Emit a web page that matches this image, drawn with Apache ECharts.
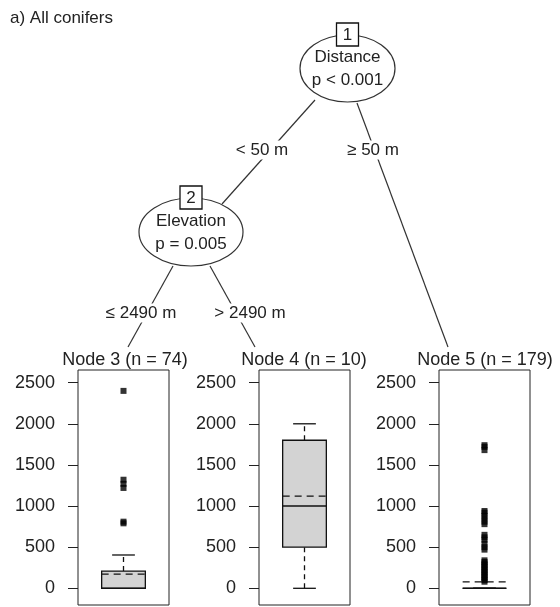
<!DOCTYPE html>
<html>
<head>
<meta charset="utf-8">
<script src="https://cdn.jsdelivr.net/npm/echarts@6/dist/echarts.min.js"></script>
<style>html,body{margin:0;padding:0;background:#fff}#c{width:560px;height:607px}</style>
</head>
<body>
<div id="c"></div>
<script>
// ---- data ----
const nodeLabels = ['Node 3 (n = 74)', 'Node 4 (n = 10)', 'Node 5 (n = 179)'];
// [lower whisker, Q1, median, Q3, upper whisker]
const boxNode3 = [0, 0, 0, 210, 405];
const boxNode4 = [0, 500, 1000, 1800, 2000];
const boxNode5 = [0, 0, 0, 0, 0];
const means = [172, 1120, 77];
const outliersNode3 = [2400, 1320, 1270, 1220, 810, 790];
const outliersNode4 = [];
const outliersNode5 = [80, 100, 120, 140, 160, 180, 200, 220, 240, 260, 280, 300, 320, 340,
                       470, 500, 540, 590, 620, 650,
                       780, 810, 850, 880, 920, 940,
                       1680, 1720, 1740];
const yTicks = [0, 500, 1000, 1500, 2000, 2500];
const splitLabels = ['< 50 m', '\u2265 50 m', '\u2264 2490 m', '> 2490 m'];
const innerNodes = [
  {id: '1', variable: 'Distance', p: 'p < 0.001'},
  {id: '2', variable: 'Elevation', p: 'p = 0.005'}
];

const boxes = [boxNode3, boxNode4, boxNode5];
const outliers = [outliersNode3, outliersNode4, outliersNode5];

const FONT = '"Liberation Sans", Arial, sans-serif';
const TXT = '#222';
const LINE = '#333';

const chart = echarts.init(document.getElementById('c'), null, {renderer: 'canvas'});

const gridLefts = [78, 259, 439];
const grids = gridLefts.map(l => ({left: l, width: 91, top: 370, height: 235, show: true,
  borderColor: '#222', borderWidth: 1, backgroundColor: 'transparent'}));
const xAxes = grids.map((g, i) => ({gridIndex: i, type: 'value', min: 0, max: 1, show: false}));
const yAxes = grids.map((g, i) => ({
  gridIndex: i, type: 'value', min: -203, max: 2654,
  axisLine: {show: false},
  splitLine: {show: false},
  axisTick: {show: true, length: 10, customValues: yTicks, lineStyle: {color: '#222'}},
  axisLabel: {show: true, customValues: yTicks, margin: 23, fontSize: 18, fontFamily: FONT, color: TXT,
              formatter: v => String(v)}
}));

function renderBox(params, api) {
  const lo = api.value(1), q1 = api.value(2), med = api.value(3), q3 = api.value(4), hi = api.value(5), mn = api.value(6);
  const c = (x, y) => api.coord([x, y]);
  const dash = {stroke: '#111', lineWidth: 1.3, lineDash: [5, 4]};
  const solid = {stroke: '#111', lineWidth: 1.3};
  const a = c(0.26, q3), b = c(0.74, q1);
  const seg = (p1, p2, style) => ({type: 'line', shape: {x1: p1[0], y1: p1[1], x2: p2[0], y2: p2[1]}, style: style});
  return {type: 'group', children: [
    seg(c(0.5, lo), c(0.5, q1), dash),
    seg(c(0.5, q3), c(0.5, hi), dash),
    seg(c(0.375, lo), c(0.625, lo), solid),
    seg(c(0.375, hi), c(0.625, hi), solid),
    {type: 'rect', shape: {x: a[0], y: a[1], width: b[0] - a[0], height: b[1] - a[1]},
     style: {fill: '#d3d3d3', stroke: '#111', lineWidth: 1.3}},
    seg(c(0.26, med), c(0.74, med), {stroke: '#111', lineWidth: 1.6}),
    seg(c(0.26, mn), c(0.74, mn), {stroke: '#111', lineWidth: 1.3, lineDash: [7, 5]})
  ]};
}

const series = [];
boxes.forEach((bx, i) => {
  series.push({
    type: 'custom', xAxisIndex: i, yAxisIndex: i, renderItem: renderBox,
    encode: {x: 0, y: [1, 2, 3, 4, 5, 6]},
    data: [[0.5].concat(bx).concat([means[i]])], silent: true, z: 2
  });
  series.push({
    type: 'scatter', xAxisIndex: i, yAxisIndex: i, symbol: 'rect', symbolSize: 6,
    itemStyle: {color: '#000'}, data: outliers[i].map(v => [0.5, v]), silent: true, z: 3
  });
});

// ---- tree layout graphics ----
const g = [];
const text = (x, y, s, size) => ({type: 'text', x: x, y: y,
  style: {text: s, fill: TXT, font: (size || 17) + 'px ' + FONT, align: 'center', verticalAlign: 'middle'}});
const line = (x1, y1, x2, y2) => ({type: 'line', shape: {x1, y1, x2, y2}, style: {stroke: LINE, lineWidth: 1.2}, z: 1});

g.push({type: 'text', x: 10, y: 18, style: {text: 'a) All conifers', fill: TXT, font: '17px ' + FONT, align: 'left', verticalAlign: 'middle'}});

// edges
g.push(line(315, 100, 222, 204));
g.push(line(357, 103, 448, 347));
g.push(line(173, 266, 128, 347));
g.push(line(210, 266, 255, 347));

// edge labels (white background masks the lines)
const labPos = [[262, 150], [373, 150], [141, 313], [250, 313]];
splitLabels.forEach((s, i) => {
  g.push({type: 'text', x: labPos[i][0], y: labPos[i][1], z: 5,
    style: {text: s, fill: TXT, font: '17px ' + FONT, align: 'center', verticalAlign: 'middle',
            backgroundColor: '#fff', padding: [1, 2]}});
});

// inner nodes
const nodePos = [[347.5, 68.5, 47.5, 33.5], [191, 232, 52, 34]];
innerNodes.forEach((n, i) => {
  const [cx, cy, rx, ry] = nodePos[i];
  g.push({type: 'ellipse', shape: {cx, cy, rx, ry}, style: {fill: '#fff', stroke: LINE, lineWidth: 1.2}, z: 6});
  g.push(Object.assign(text(cx, cy - 11, n.variable), {z: 7}));
  g.push(Object.assign(text(cx, cy + 12, n.p), {z: 7}));
  g.push({type: 'rect', shape: {x: cx - 11, y: cy - ry - 12, width: 22, height: 23},
    style: {fill: '#fff', stroke: '#111', lineWidth: 1.3}, z: 8});
  g.push(Object.assign(text(cx, cy - ry, n.id), {z: 9}));
});

// terminal node labels
const termX = [125, 304, 485];
nodeLabels.forEach((s, i) => g.push(Object.assign(text(termX[i], 360, s, 18), {z: 7})));

chart.setOption({
  animation: false,
  backgroundColor: '#fff',
  grid: grids, xAxis: xAxes, yAxis: yAxes, series: series,
  graphic: {elements: g}
});
</script>
</body>
</html>
